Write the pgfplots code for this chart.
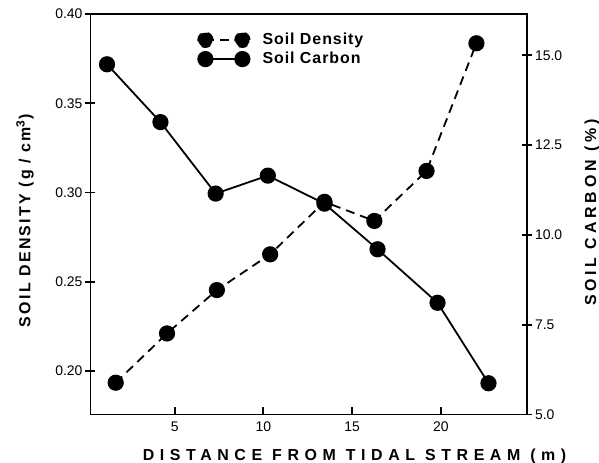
\documentclass[border=0pt]{standalone}
\usepackage{fontspec}
\setmainfont{Liberation Sans}
\newfontfamily\xlblfont[LetterSpace=35]{Liberation Sans}
\newfontfamily\ylblfont[LetterSpace=14]{Liberation Sans}
\newfontfamily\rlblfont[LetterSpace=24]{Liberation Sans}
\newfontfamily\legfont[LetterSpace=6]{Liberation Sans}
\usepackage{pgfplots}
\pgfplotsset{compat=1.18}
\pgfplotsset{
  legend image code/.code={%
    \draw[#1] (0bp,0bp) -- (18.5bp,0bp);
    \fill[black] (0bp,0bp) circle (3.6bp);
    \fill[black] (18.5bp,0bp) circle (3.6bp);
  },
  base/.style={
    width=218.25bp, height=200.25bp, scale only axis,
    at={(0,0)}, anchor=south west,
    xmin=0.26, xmax=24.85,
    tick label style={font=\fontsize{7}{8}\selectfont},
    /pgf/number format/assume math mode=true,
    axis line style={line width=0.9bp},
    major tick style={line width=0.9bp, black},
  },
}
\begin{document}
\begin{tikzpicture}
\useasboundingbox (-45.25bp,-24.25bp) rectangle (254.25bp,207.25bp);
% frame and x axis
\begin{axis}[base,
  ymin=0, ymax=1, ytick=\empty,
  xtick={5,10,15,20}, xtick pos=left, tick align=inside,
  major tick length=4bp,
  xlabel={\xlblfont\bfseries\fontsize{8}{9}\selectfont DISTANCE FROM TIDAL STREAM (m)},
  xlabel style={at={(axis description cs:0.605,-0.1036)}, anchor=center},
]
\end{axis}
% soil density (left axis)
\begin{axis}[base,
  ymin=0.1757, ymax=0.40,
  hide x axis, axis y line*=left,
  ytick={0.20,0.25,0.30,0.35,0.40},
  yticklabel style={xshift=2bp, /pgf/number format/.cd, fixed, fixed zerofill, precision=2},
  tick align=center, major tick length=5bp,
  ylabel={\ylblfont\bfseries\fontsize{8}{9}\selectfont SOIL DENSITY (g / cm\textsuperscript{3})},
  ylabel style={at={(axis description cs:-0.150,0.484)}, anchor=center},
]
\addplot[black, line width=0.9bp, dash pattern=on 4.5bp off 3bp,
  mark=*, mark size=3.6bp, mark options={solid}] coordinates {
  (1.68,0.1935) (4.57,0.2211) (7.38,0.2454) (10.38,0.2654)
  (13.44,0.2948) (16.25,0.2841) (19.19,0.3121) (22.0,0.3836)
};
\end{axis}
% soil carbon (right axis)
\begin{axis}[base,
  ymin=5, ymax=16.15,
  hide x axis, axis y line*=right,
  ytick={5,7.5,10,12.5,15},
  yticklabel style={xshift=-2bp, /pgf/number format/.cd, fixed, fixed zerofill, precision=1},
  tick align=center, major tick length=5bp,
  ylabel={\rlblfont\bfseries\fontsize{8}{9}\selectfont SOIL CARBON (\%)},
  ylabel style={at={(axis description cs:1.149,0.504)}, anchor=center},
  legend style={draw=none, fill=none, inner sep=0pt, outer sep=0pt,
    row sep=1.5bp, column sep=6bp, nodes={inner sep=0pt},
    font=\legfont\bfseries\fontsize{8}{9}\selectfont,
    at={(axis description cs:0.2447,0.9556)}, anchor=north west},
  legend cell align=left,
]
\addlegendimage{black, line width=0.9bp, dash pattern=on 4.5bp off 3bp}
\addlegendentry{Soil Density}
\addplot[black, line width=0.9bp, mark=*, mark size=3.6bp] coordinates {
  (1.19,14.75) (4.2,13.14) (7.31,11.15) (10.25,11.65)
  (13.44,10.87) (16.43,9.60) (19.81,8.11) (22.68,5.87)
};
\addlegendentry{Soil Carbon}
\end{axis}
\end{tikzpicture}
\end{document}
